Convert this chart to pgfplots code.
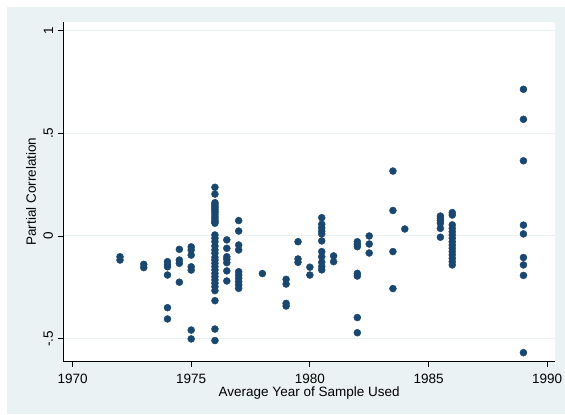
\documentclass[border=0pt]{standalone}
\usepackage{pgfplots}
\pgfplotsset{compat=1.18}
\usepackage{fontspec}
\setmainfont{Liberation Sans}
\definecolor{stbg}{RGB}{234,242,243}
\definecolor{stgrid}{RGB}{234,242,243}
\definecolor{navy}{RGB}{26,71,111}
\begin{document}
\begin{tikzpicture}[x=1bp,y=1bp]
\fill[white] (0,0) rectangle (565,414);
\fill[stbg] (7,0) rectangle (565,407);
\begin{axis}[
  at={(63.3bp,52.3bp)}, anchor=south west,
  scale only axis, width=491.7bp, height=340bp,
  xmin=1969.61, xmax=1990.33, ymin=-0.612, ymax=1.043,
  axis background/.style={fill=white},
  axis lines*=left,
  axis line style={-, black, line width=0.8bp},
  tick align=outside, major tick length=5bp,
  tick style={black, line width=0.8bp},
  xtick={1970,1975,1980,1985,1990},
  xticklabels={1970,1975,1980,1985,1990},
  ytick={-0.5,0,0.5,1},
  yticklabels={-.5,0,.5,1},
  ymajorgrids, major grid style={stgrid, line width=1bp},
  ticklabel style={font=\fontsize{13.5bp}{16bp}\selectfont, inner sep=0pt},
  xticklabel style={anchor=north},
  yticklabel style={rotate=90, anchor=south},
  xticklabel shift=7.5bp,
  yticklabel shift=5bp,
  label style={font=\fontsize{13.5bp}{16bp}\selectfont, inner sep=0pt},
  xlabel={Average Year of Sample Used},
  ylabel={Partial Correlation},
  xlabel style={at={(axis description cs:0.5,-0.0744)}, anchor=north},
  ylabel style={at={(axis description cs:-0.0549,0.5)}, anchor=south, rotate=0},
  clip=false,
]
\addplot[only marks, mark=*, mark size=3.5bp, mark options={fill=navy, draw=navy}] coordinates {
(1972,-0.101) (1972,-0.117)
(1973,-0.138) (1973,-0.154)
(1974,-0.125) (1974,-0.140) (1974,-0.150) (1974,-0.190) (1974,-0.349) (1974,-0.404)
(1974.5,-0.065) (1974.5,-0.117) (1974.5,-0.133) (1974.5,-0.225)
(1975,-0.053) (1975,-0.068) (1975,-0.093) (1975,-0.150) (1975,-0.166) (1975,-0.458) (1975,-0.501)
(1976,0.237) (1976,0.204) (1976,0.162) (1976,0.154) (1976,0.146) (1976,0.138) (1976,0.130) (1976,0.122) (1976,0.114) (1976,0.104) (1976,0.094) (1976,0.085) (1976,0.075) (1976,0.068) (1976,0.062)
(1976,0.005) (1976,-0.011) (1976,-0.028) (1976,-0.049) (1976,-0.068) (1976,-0.084) (1976,-0.104) (1976,-0.117) (1976,-0.133) (1976,-0.149) (1976,-0.165) (1976,-0.182) (1976,-0.198) (1976,-0.214) (1976,-0.230) (1976,-0.247) (1976,-0.266) (1976,-0.315) (1976,-0.453) (1976,-0.509)
(1976.5,-0.019) (1976.5,-0.060) (1976.5,-0.101) (1976.5,-0.113) (1976.5,-0.130) (1976.5,-0.170) (1976.5,-0.219)
(1977,0.075) (1977,0.024) (1977,-0.044) (1977,-0.068) (1977,-0.174) (1977,-0.190) (1977,-0.206) (1977,-0.222) (1977,-0.238) (1977,-0.255)
(1978,-0.183)
(1979,-0.211) (1979,-0.234) (1979,-0.328) (1979,-0.341)
(1979.5,-0.028) (1979.5,-0.112) (1979.5,-0.128)
(1980,-0.152) (1980,-0.190)
(1980.5,0.089) (1980.5,0.057) (1980.5,0.040) (1980.5,0.024) (1980.5,0.010) (1980.5,-0.024) (1980.5,-0.076) (1980.5,-0.101) (1980.5,-0.128) (1980.5,-0.149) (1980.5,-0.165)
(1981,-0.097) (1981,-0.125)
(1982,-0.028) (1982,-0.040) (1982,-0.052) (1982,-0.182) (1982,-0.195) (1982,-0.397) (1982,-0.471)
(1982.5,0.000) (1982.5,-0.039) (1982.5,-0.083)
(1983.5,0.316) (1983.5,0.124) (1983.5,-0.076) (1983.5,-0.256)
(1984,0.034)
(1985.5,0.097) (1985.5,0.086) (1985.5,0.075) (1985.5,0.062) (1985.5,0.037) (1985.5,-0.006)
(1986,0.114) (1986,0.102) (1986,0.054) (1986,0.037) (1986,0.021) (1986,0.005) (1986,-0.011) (1986,-0.028) (1986,-0.044) (1986,-0.060) (1986,-0.076) (1986,-0.092) (1986,-0.109) (1986,-0.125) (1986,-0.141)
(1989,0.714) (1989,0.568) (1989,0.366) (1989,0.053) (1989,0.010) (1989,-0.105) (1989,-0.141) (1989,-0.192) (1989,-0.568)
};
\end{axis}
\end{tikzpicture}
\end{document}
